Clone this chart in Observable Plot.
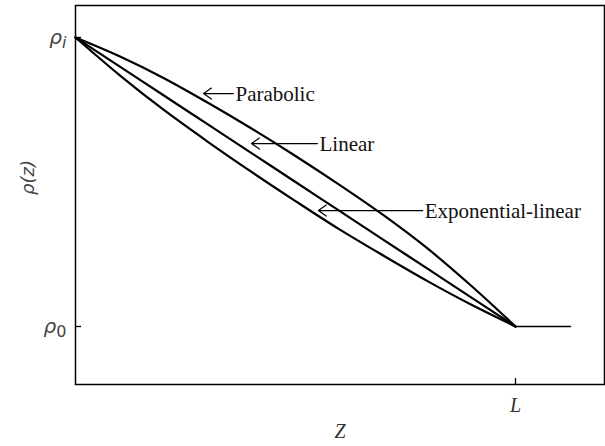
<!DOCTYPE html>
<html>
<head>
<meta charset="utf-8">
<script src="https://cdn.jsdelivr.net/npm/d3@7"></script>
<script src="https://cdn.jsdelivr.net/npm/@observablehq/plot@0.6"></script>
<style>
  html, body { margin: 0; padding: 0; background: #fff; }
</style>
</head>
<body>
<div id="chart"></div>
<script>
// z / L positions at which the curves were read
const zValues = [0, 0.1, 0.2, 0.3, 0.4, 0.5, 0.6, 0.7, 0.8, 0.9, 1.0];
// normalized density (rho - rho0)/(rhoi - rho0)
const parabolic = [1, 0.935, 0.86, 0.775, 0.685, 0.59, 0.49, 0.385, 0.27, 0.14, 0];
const linear = [1, 0.9, 0.8, 0.7, 0.6, 0.5, 0.4, 0.3, 0.2, 0.1, 0];
const expLinear = [1, 0.87, 0.75, 0.64, 0.535, 0.434, 0.336, 0.245, 0.157, 0.075, 0];
// tail beyond L
const tailZ = [1.0, 1.125];
const tailRho = [0, 0];

const yTicks = [0, 1];
const yTickBase = ["ρ", "ρ"];
const yTickSub = ["0", "i"];
const yTickSubStyle = ["normal", "italic"];
const xTicks = [1];
const xTickLabels = ["L"];

// annotations: label, arrow tip (z, rho), arrow start z
const annLabels = ["Parabolic", "Linear", "Exponential-linear"];
const annTipZ = [0.291, 0.40, 0.552];
const annRho = [0.806, 0.633, 0.401];
const annStartZ = [0.359, 0.55, 0.789];

const series = [
  ["Parabolic", parabolic],
  ["Linear", linear],
  ["Exponential-linear", expLinear]
];
const curveData = series.flatMap(([name, vals]) => zValues.map((z, i) => ({name, z, rho: vals[i]})));
const tailData = tailZ.map((z, i) => ({z, rho: tailRho[i]}));
const ann = annLabels.map((label, i) => ({label, tip: annTipZ[i], start: annStartZ[i], rho: annRho[i]}));

const width = 605, height = 446;
const marginLeft = 75, marginRight = 1, marginTop = 5, marginBottom = 62;
const xDomain = [0, 1.2023];
const yDomain = [-0.2007, 1.1107];
const pxPerX = (width - marginLeft - marginRight) / (xDomain[1] - xDomain[0]);
const pxPerY = (height - marginTop - marginBottom) / (yDomain[1] - yDomain[0]);
const tickLen = 6;

const chart = Plot.plot({
  width, height, marginLeft, marginRight, marginTop, marginBottom,
  x: {domain: xDomain},
  y: {domain: yDomain},
  style: {background: "#fff"},
  marks: [
    Plot.axisY(yTicks, {tickSize: 0, tickPadding: 9, tickFormat: (d) => "@@" + yTicks.indexOf(d),
      fontSize: 20, fontStyle: "italic", fontFamily: "DejaVu Sans", fill: "#444", label: null}),
    Plot.axisX(xTicks, {tickSize: 0, tickPadding: 13, tickFormat: (d) => xTickLabels[xTicks.indexOf(d)],
      fontSize: 20, fontStyle: "italic", fontFamily: "Liberation Serif", fill: "#333", label: null}),
    // inward ticks
    Plot.ruleY(yTicks, {y: (d) => d, x1: xDomain[0], x2: xDomain[0] + tickLen / pxPerX, stroke: "black", strokeWidth: 1.3}),
    Plot.ruleX(xTicks, {x: (d) => d, y1: yDomain[0], y2: yDomain[0] + tickLen / pxPerY, stroke: "black", strokeWidth: 1.3}),
    Plot.line(curveData, {x: "z", y: "rho", z: "name", curve: "catmull-rom", stroke: "black", strokeWidth: 2.2}),
    Plot.line(tailData, {x: "z", y: "rho", stroke: "black", strokeWidth: 1.5}),
    Plot.arrow(ann, {x1: "start", x2: "tip", y1: "rho", y2: "rho", stroke: "black", strokeWidth: 1.2,
      headLength: 12, headAngle: 70, inset: 0}),
    Plot.text(ann, {x: "start", y: "rho", text: "label", textAnchor: "start", dx: 2, dy: 1,
      fontSize: 21, fontFamily: "Liberation Serif", fill: "#111"}),
    Plot.text(["ρ(z)"], {frameAnchor: "left", dx: -47, rotate: -90, fontSize: 18, fontStyle: "italic",
      fontFamily: "DejaVu Sans", fill: "#444"}),
    Plot.text(["Z"], {frameAnchor: "bottom", dy: 53, fontSize: 20, fontStyle: "italic",
      fontFamily: "Liberation Serif", fill: "#333"}),
    Plot.frame({stroke: "black", strokeWidth: 1.5})
  ]
});

// rewrite y tick labels with a subscript
d3.select(chart).selectAll("text").each(function () {
  const t = this.textContent;
  if (t && t.startsWith("@@")) {
    const i = +t.slice(2);
    const sel = d3.select(this);
    sel.text(null);
    sel.append("tspan").text(yTickBase[i]);
    sel.append("tspan").attr("dy", "0.25em").attr("font-size", "16")
      .attr("font-style", yTickSubStyle[i]).text(yTickSub[i]);
  }
});
document.getElementById("chart").appendChild(chart);
</script>
</body>
</html>
